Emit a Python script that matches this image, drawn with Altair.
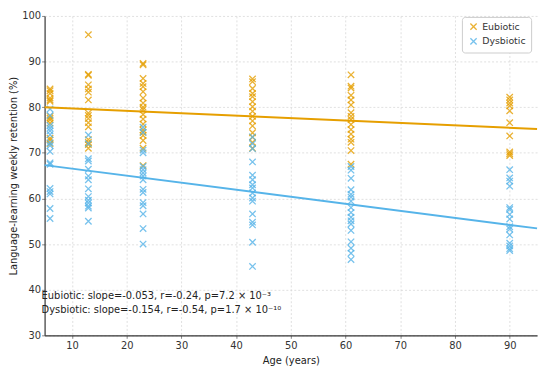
import altair as alt
import pandas as pd

ages = [6, 13, 23, 43, 61, 90]

eub_6 = [84.0, 83.6, 83.0, 82.0, 81.6, 81.3, 78.0, 77.6, 77.2, 76.5, 73.2, 72.8, 72.0]
eub_13 = [95.9, 87.2, 87.0, 84.9, 84.0, 83.3, 81.6, 78.7, 78.2, 77.5, 76.6, 75.7, 72.9, 72.3, 71.8, 71.0]
eub_23 = [89.6, 89.3, 86.3, 85.2, 84.5, 83.4, 82.0, 80.9, 80.0, 79.5, 78.4, 77.4, 76.3, 75.0, 74.5, 73.8, 72.7, 71.0, 67.2]
eub_43 = [86.2, 85.6, 84.1, 83.0, 82.3, 81.2, 80.1, 79.1, 78.0, 77.0, 75.9, 74.4, 73.4, 72.3, 71.0]
eub_61 = [87.1, 84.6, 84.2, 82.6, 81.6, 80.5, 78.8, 78.0, 77.3, 76.2, 75.1, 74.1, 73.0, 72.3, 70.5, 67.5]
eub_90 = [82.2, 81.6, 80.9, 80.3, 79.2, 76.6, 73.7, 70.2, 69.8, 69.4]

dys_6 = [79.6, 78.2, 76.0, 75.4, 74.8, 74.0, 72.2, 71.6, 70.3, 67.8, 67.5, 62.2, 61.5, 61.0, 57.8, 55.6]
dys_13 = [73.9, 72.0, 68.7, 68.2, 66.4, 64.9, 64.1, 62.1, 60.4, 59.6, 59.0, 58.3, 57.9, 55.0]
dys_23 = [75.6, 74.5, 70.6, 70.0, 67.0, 66.3, 65.6, 64.9, 64.1, 62.0, 61.3, 59.1, 58.4, 56.6, 53.4, 50.0]
dys_43 = [73.5, 72.0, 70.9, 68.0, 65.1, 64.1, 63.0, 62.3, 61.2, 60.1, 59.4, 56.6, 54.8, 54.2, 50.4, 45.1]
dys_61 = [67.0, 66.2, 64.4, 61.9, 60.9, 60.3, 59.4, 58.0, 56.9, 55.9, 55.1, 54.4, 53.0, 50.5, 49.1, 48.0, 46.6]
dys_90 = [66.3, 64.5, 63.8, 62.7, 58.0, 57.6, 56.5, 55.5, 53.8, 53.3, 52.0, 50.2, 49.6, 49.0, 48.6]

groups = ["Eubiotic", "Dysbiotic"]
colors = ["#E69F00", "#56B4E9"]
slopes = [-0.053, -0.154]
intercepts = [80.27, 68.07]
line_x = [5, 95]

annot_lines = [
    "Eubiotic: slope=-0.053, r=-0.24, p=7.2 × 10⁻³",
    "Dysbiotic: slope=-0.154, r=-0.54, p=1.7 × 10⁻¹⁰",
]

eub = [eub_6, eub_13, eub_23, eub_43, eub_61, eub_90]
dys = [dys_6, dys_13, dys_23, dys_43, dys_61, dys_90]

rows = []
for g, sets in zip(groups, [eub, dys]):
    for a, vals in zip(ages, sets):
        for v in vals:
            rows.append({"age": a, "retention": v, "group": g})
df = pd.DataFrame(rows)

lrows = []
for g, s, b in zip(groups, slopes, intercepts):
    for xv in line_x:
        lrows.append({"age": xv, "retention": b + s * xv, "group": g})
ldf = pd.DataFrame(lrows)

XPATH = "M-1,-1L1,1M-1,1L1,-1"

xenc = alt.X("age:Q", scale=alt.Scale(domain=[5, 95], nice=False, zero=False),
             axis=alt.Axis(values=list(range(10, 100, 10)), title="Age (years)"))
yenc = alt.Y("retention:Q", scale=alt.Scale(domain=[30, 100], nice=False, zero=False),
             axis=alt.Axis(values=list(range(30, 101, 10)), title="Language-learning weekly retention (%)",
                           labelPadding=1, titlePadding=3))
cscale = alt.Scale(domain=groups, range=colors)

points = alt.Chart(df).mark_point(shape=XPATH, filled=False, size=42, strokeWidth=1.3, opacity=0.8).encode(
    x=xenc, y=yenc,
    color=alt.Color("group:N", scale=cscale, sort=groups,
                    legend=alt.Legend(title=None, orient="none", legendX=422, legendY=1,
                                      symbolType=XPATH, symbolSize=40, symbolStrokeWidth=1.3,
                                      symbolFillColor="transparent",
                                      labelFont="DejaVu Sans", labelFontSize=9.5, labelColor="#333",
                                      padding=5, rowPadding=2, symbolOffset=2,
                                      strokeColor="#cccccc", fillColor="white", cornerRadius=3)),
)

lines = alt.Chart(ldf).mark_line(strokeWidth=2).encode(
    x="age:Q", y="retention:Q",
    color=alt.Color("group:N", scale=cscale, legend=None),
    detail="group:N",
)

t1 = alt.Chart(pd.DataFrame({"t": [annot_lines[0]]})).mark_text(
    align="left", baseline="middle", font="DejaVu Sans", fontSize=10, color="#222"
).encode(text="t:N", x=alt.value(-3), y=alt.value(283.5))
t2 = alt.Chart(pd.DataFrame({"t": [annot_lines[1]]})).mark_text(
    align="left", baseline="middle", font="DejaVu Sans", fontSize=10, color="#222"
).encode(text="t:N", x=alt.value(-3), y=alt.value(297))

chart = alt.layer(points, lines, t1, t2).properties(
    width=498, height=323,
    autosize=alt.AutoSizeParams(type="none"),
    padding={"left": 37, "top": 6, "right": 5, "bottom": 30},
).configure_view(stroke=None).configure_axis(
    domainColor="#333", domainWidth=1.2, tickColor="#666", tickSize=3, tickWidth=0.8,
    labelFont="DejaVu Sans", labelFontSize=10, labelColor="#333", labelPadding=2,
    titleFont="DejaVu Sans", titleFontSize=10, titleFontWeight="normal", titleColor="#222",
    titlePadding=5, gridColor="#d8d8d8", gridDash=[2, 2], gridWidth=0.8,
)

chart.save("out.html", embed_options={"renderer": "svg", "actions": False})
